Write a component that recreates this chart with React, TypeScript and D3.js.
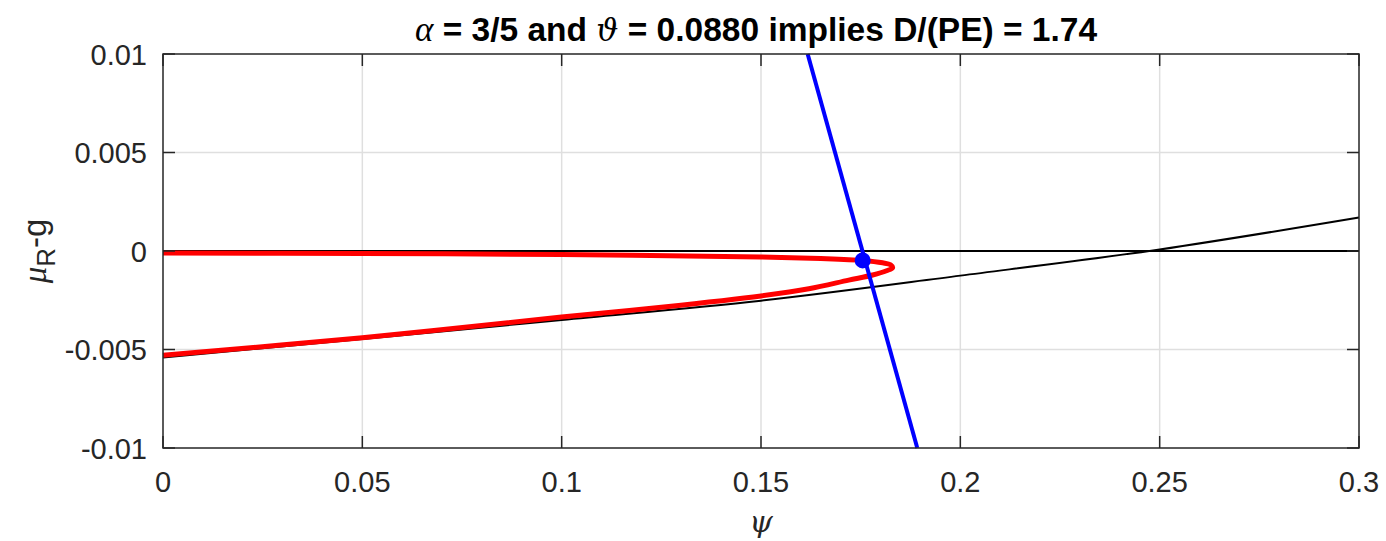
import { useEffect, useRef } from 'react';
import * as d3 from 'd3';

// black curve: mu_R - g boundary
const blackPsi = [0, 0.05, 0.1, 0.15, 0.2, 0.25, 0.3];
const blackY = [-0.0054, -0.00447, -0.0035, -0.00252, -0.00125, 0.00008, 0.0017];

// red loop, upper branch out to the nose then back along the lower branch
const redPsi = [0, 0.05, 0.1, 0.15, 0.165, 0.1755, 0.1805, 0.1825, 0.183, 0.1815, 0.178, 0.172, 0.162, 0.15, 0.125, 0.1, 0.05, 0];
const redY = [-0.0001, -0.00013, -0.00018, -0.0003, -0.00038, -0.00048, -0.0006, -0.0007, -0.00085, -0.001, -0.00122, -0.00148, -0.00192, -0.00228, -0.00285, -0.00335, -0.0044, -0.00529];

// blue straight line
const bluePsi = [0.1617, 0.1892];
const blueY = [0.01, -0.01];

// equilibrium point
const dotPsi = 0.1755;
const dotY = -0.00048;

const xTicks = [0, 0.05, 0.1, 0.15, 0.2, 0.25, 0.3];
const yTicks = [0.01, 0.005, 0, -0.005, -0.01];

export default function App() {
  const svgRef = useRef<SVGSVGElement>(null);

  useEffect(() => {
    const width = 1386;
    const height = 541;
    const left = 163, right = 1359, top = 54, bottom = 448;
    const axisColor = '#262626';
    const font = "'Liberation Sans', Arial, sans-serif";

    const svg = d3.select(svgRef.current)
      .attr('width', width)
      .attr('height', height);
    svg.selectAll('*').remove();

    const x = d3.scaleLinear().domain([0, 0.3]).range([left, right]);
    const y = d3.scaleLinear().domain([-0.01, 0.01]).range([bottom, top]);

    svg.append('rect').attr('x', 0).attr('y', 0).attr('width', width).attr('height', height).attr('fill', '#fff');

    // grid
    const grid = svg.append('g');
    xTicks.slice(1, -1).forEach(t => {
      grid.append('line').attr('x1', x(t)).attr('x2', x(t)).attr('y1', top).attr('y2', bottom)
        .attr('stroke', '#dfdfdf').attr('stroke-width', 1.5);
    });
    yTicks.slice(1, -1).forEach(t => {
      grid.append('line').attr('x1', left).attr('x2', right).attr('y1', y(t)).attr('y2', y(t))
        .attr('stroke', '#dfdfdf').attr('stroke-width', 1.5);
    });

    const plot = svg.append('g');
    // zero line
    plot.append('line').attr('x1', x(0)).attr('x2', x(0.3)).attr('y1', y(0)).attr('y2', y(0))
      .attr('stroke', '#000').attr('stroke-width', 2.2);

    const blackLine = d3.line<number>()
      .x((d, i) => x(blackPsi[i]))
      .y(d => y(d))
      .curve(d3.curveMonotoneX);
    plot.append('path').attr('d', blackLine(blackY))
      .attr('fill', 'none').attr('stroke', '#000').attr('stroke-width', 2);

    const redLine = d3.line<number>()
      .x((d, i) => x(redPsi[i]))
      .y(d => y(d))
      .curve(d3.curveCatmullRom.alpha(0.5));
    plot.append('path').attr('d', redLine(redY))
      .attr('fill', 'none').attr('stroke', '#ff0000').attr('stroke-width', 5)
      .attr('stroke-linejoin', 'round');

    const blueLine = d3.line<number>()
      .x((d, i) => x(bluePsi[i]))
      .y(d => y(d));
    plot.append('path').attr('d', blueLine(blueY))
      .attr('fill', 'none').attr('stroke', '#0000ff').attr('stroke-width', 4);

    plot.append('circle').attr('cx', x(dotPsi)).attr('cy', y(dotY)).attr('r', 8).attr('fill', '#0000ff');

    // box and inward ticks
    const ax = svg.append('g').attr('stroke', axisColor).attr('stroke-width', 1.5).attr('fill', 'none');
    ax.append('rect').attr('x', left).attr('y', top).attr('width', right - left).attr('height', bottom - top);
    xTicks.forEach(t => {
      ax.append('line').attr('x1', x(t)).attr('x2', x(t)).attr('y1', bottom).attr('y2', bottom - 12);
      ax.append('line').attr('x1', x(t)).attr('x2', x(t)).attr('y1', top).attr('y2', top + 12);
    });
    yTicks.forEach(t => {
      ax.append('line').attr('x1', left).attr('x2', left + 12).attr('y1', y(t)).attr('y2', y(t));
      ax.append('line').attr('x1', right).attr('x2', right - 12).attr('y1', y(t)).attr('y2', y(t));
    });

    // tick labels
    xTicks.forEach(t => {
      svg.append('text').attr('x', x(t)).attr('y', 492)
        .attr('text-anchor', 'middle').attr('font-family', font).attr('font-size', 29)
        .attr('fill', axisColor).text(String(t));
    });
    yTicks.forEach(t => {
      svg.append('text').attr('x', 147).attr('y', y(t) + 10.5)
        .attr('text-anchor', 'end').attr('font-family', font).attr('font-size', 29)
        .attr('fill', axisColor).text(String(t));
    });

    // x label
    svg.append('text').attr('x', x(0.15)).attr('y', 532)
      .attr('text-anchor', 'middle').attr('font-family', "'DejaVu Serif', 'Liberation Serif', serif")
      .attr('font-style', 'italic').attr('font-size', 30).attr('fill', axisColor).text('ψ');

    // y label
    const yl = svg.append('text')
      .attr('transform', `translate(46,${y(0)}) rotate(-90)`)
      .attr('text-anchor', 'middle').attr('font-family', font).attr('font-size', 33).attr('fill', axisColor);
    yl.append('tspan').attr('font-family', "'Liberation Serif', serif").attr('font-style', 'italic').text('μ');
    yl.append('tspan').attr('dy', 9).attr('font-size', 26).text('R');
    yl.append('tspan').attr('dy', -9).text('-g');

    // title
    const title = svg.append('text').attr('x', 756).attr('y', 41)
      .attr('text-anchor', 'middle').attr('font-family', font).attr('font-size', 33.5)
      .attr('font-weight', 'bold').attr('fill', '#000');
    title.append('tspan').attr('font-family', "'Liberation Serif', serif").attr('font-style', 'italic')
      .attr('font-weight', 'normal').attr('font-size', 35).text('α');
    title.append('tspan').text(' = 3/5 and ');
    title.append('tspan').attr('font-family', "'DejaVu Serif', serif").attr('font-style', 'italic')
      .attr('font-weight', 'normal').attr('font-size', 31).text('ϑ');
    title.append('tspan').text(' = 0.0880 implies D/(PE) = 1.74');
  }, []);

  return <svg ref={svgRef} style={{ position: 'absolute', left: 0, top: 0 }}></svg>;
}
